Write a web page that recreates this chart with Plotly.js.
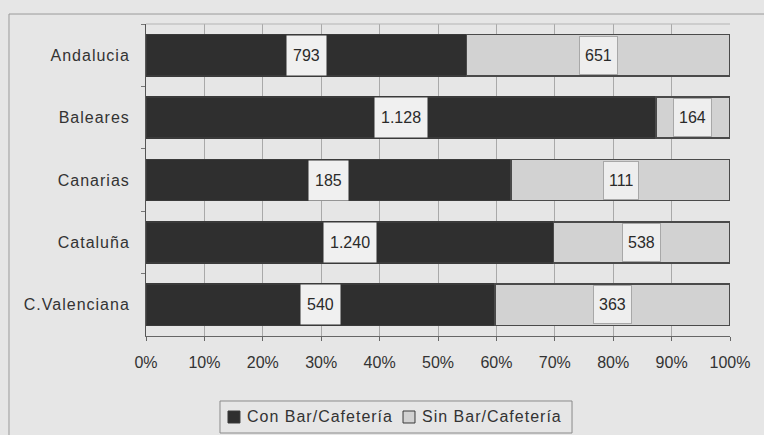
<!DOCTYPE html>
<html>
<head>
<meta charset="utf-8">
<script src="https://cdn.plot.ly/plotly-3.0.1.min.js"></script>
<style>
  html, body { margin: 0; padding: 0; background: #e6e6e6; }
  #chart { width: 764px; height: 435px; }
  .ytick text { letter-spacing: 1px; }
</style>
</head>
<body>
<div id="chart"></div>
<script>
// Establishments by region, split by whether they have a bar/cafeteria
const regions = ['Andalucia', 'Baleares', 'Canarias', 'Cataluña', 'C.Valenciana'];
const conBar = [793, 1128, 185, 1240, 540];
const sinBar = [651, 164, 111, 538, 363];
const seriesNames = ['Con Bar/Cafetería', 'Sin Bar/Cafetería'];
const xTicks = [0, 0.1, 0.2, 0.3, 0.4, 0.5, 0.6, 0.7, 0.8, 0.9, 1];

const FONT = '"Liberation Sans", Arial, sans-serif';
const DARK = '#2f2f2f';
const LIGHT = '#d2d2d2';
const BG = '#e6e6e6';

// Spanish thousands separator: 1128 -> "1.128"
function fmt(n) {
  return String(n).replace(/\B(?=(\d{3})+(?!\d))/g, '.');
}

const traces = [
  {
    type: 'bar', orientation: 'h', name: seriesNames[0],
    y: regions, x: conBar,
    marker: { color: DARK, line: { color: '#3a3a3a', width: 1.5 } },
    hoverinfo: 'skip'
  },
  {
    type: 'bar', orientation: 'h', name: seriesNames[1],
    y: regions, x: sinBar,
    marker: { color: LIGHT, line: { color: '#4a4a4a', width: 1.5 } },
    hoverinfo: 'skip'
  }
];

// Value labels centred in each segment of the 100% stacked bars
const annotations = [];
regions.forEach((r, i) => {
  const total = conBar[i] + sinBar[i];
  const share = conBar[i] / total;
  annotations.push({
    x: share / 2, y: r, xref: 'x', yref: 'y',
    text: fmt(conBar[i]), showarrow: false,
    font: { family: FONT, size: 16, color: '#2a2a2a' },
    bgcolor: '#f0f0f0', borderpad: 6, height: 27
  });
  annotations.push({
    x: (share + 1) / 2, y: r, xref: 'x', yref: 'y',
    text: fmt(sinBar[i]), showarrow: false,
    font: { family: FONT, size: 16, color: '#2a2a2a' },
    bgcolor: '#eeeeee', bordercolor: '#a8a8a8', borderwidth: 1,
    borderpad: 5, height: 27
  });
});

// Boxed key below the axis: swatch + series name for each trace
const keyColors = [DARK, LIGHT];
const keySwatchX = [0.1404, 0.4401];
const keyTextX = [0.1695, 0.4692];
const keyShapes = [
  { type: 'rect', xref: 'paper', yref: 'paper',
    x0: 0.1267, x1: 0.7295, y0: -0.3109, y1: -0.2083,
    fillcolor: BG, line: { color: '#8a8a8a', width: 1 } }
];
seriesNames.forEach((name, k) => {
  keyShapes.push({
    type: 'rect', xref: 'paper', yref: 'paper',
    x0: keySwatchX[k], x1: keySwatchX[k] + 0.0205, y0: -0.2788, y1: -0.2404,
    fillcolor: keyColors[k], line: { color: '#3a3a3a', width: 1 }
  });
  annotations.push({
    x: keyTextX[k], y: -0.2596, xref: 'paper', yref: 'paper',
    xanchor: 'left', yanchor: 'middle', showarrow: false,
    text: '<span style="letter-spacing:1px">' + name + '</span>',
    font: { family: FONT, size: 16, color: '#333' }
  });
});

const layout = {
  width: 764, height: 435,
  margin: { l: 146, r: 34, t: 24, b: 99, autoexpand: false },
  paper_bgcolor: BG, plot_bgcolor: BG,
  font: { family: FONT, size: 16, color: '#333' },
  barmode: 'stack', barnorm: 'fraction', bargap: 0.34,
  showlegend: false,
  xaxis: {
    range: [0, 1], tickvals: xTicks, tickformat: '.0%',
    showgrid: true, gridcolor: '#a9a9a9', gridwidth: 1,
    showline: true, linecolor: '#666', linewidth: 1,
    ticks: 'outside', ticklen: 4, tickcolor: '#666',
    tickfont: { family: FONT, size: 16, color: '#333' },
    ticklabelstandoff: 8, zeroline: false, fixedrange: true
  },
  yaxis: {
    type: 'category', autorange: 'reversed',
    showgrid: false, showline: true, linecolor: '#555', linewidth: 1,
    ticks: 'outside', tickson: 'boundaries', ticklen: 4, tickcolor: '#777',
    tickfont: { family: FONT, size: 16, color: '#333' },
    ticklabelstandoff: 12, fixedrange: true
  },
  annotations: annotations,
  shapes: [
    // light frame along the top of the plot area
    { type: 'line', xref: 'paper', yref: 'paper', x0: 0, x1: 1, y0: 1, y1: 1,
      line: { color: '#b4b4b4', width: 1 } },
    // outer chart frame (top and left edges)
    { type: 'line', xref: 'paper', yref: 'paper', x0: -0.2346, x1: 1.06, y0: 1.032, y1: 1.032,
      line: { color: '#9a9a9a', width: 1 } },
    { type: 'line', xref: 'paper', yref: 'paper', x0: -0.2346, x1: -0.2346, y0: 1.032, y1: -0.32,
      line: { color: '#9a9a9a', width: 1 } }
  ].concat(keyShapes)
};

Plotly.newPlot('chart', traces, layout, { displayModeBar: false, staticPlot: true });
</script>
</body>
</html>
